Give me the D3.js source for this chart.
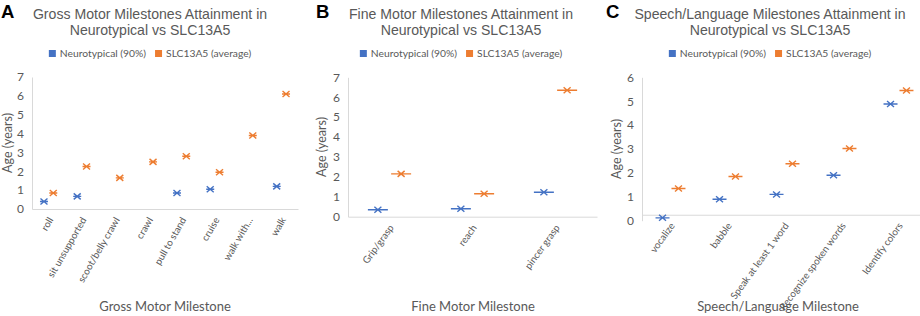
<!DOCTYPE html>
<html>
<head>
<meta charset="utf-8">
<script src="https://cdn.jsdelivr.net/npm/d3@7"></script>
<style>
  body { margin: 0; background: #fff; }
  svg { display: block; }
</style>
</head>
<body>
<script>
(function (d3) {
  'use strict';

  // ---- data ----
  const seriesNames = ["Neurotypical (90%)", "SLC13A5 (average)"];

  const grossCategories = ["roll", "sit unsupported", "scoot/belly crawl", "crawl", "pull to stand", "cruise", "walk with...", "walk"];
  const grossNeuro = [0.4, 0.67, null, null, 0.85, 1.05, null, 1.2];
  const grossSlc = [0.85, 2.25, 1.65, 2.5, 2.8, 1.95, 3.9, 6.1];

  const fineCategories = ["Grip/grasp", "reach", "pincer grasp"];
  const fineNeuro = [0.35, 0.4, 1.23];
  const fineSlc = [2.15, 1.15, 6.35];

  const speechCategories = ["vocalize", "babble", "Speak at least 1 word", "Recognize spoken words", "Identify colors"];
  const speechNeuro = [0.12, 0.9, 1.1, 1.9, 4.88];
  const speechSlc = [1.35, 1.85, 2.38, 3.02, 5.45];

  const yTicks7 = [0, 1, 2, 3, 4, 5, 6, 7];
  const yTicks6 = [0, 1, 2, 3, 4, 5, 6];

  const colors = ["#4472C4", "#ED7D31"];
  const grey = "#595959";
  const lab = "Lato, 'Open Sans', sans-serif";

  const svg = d3.select("body").append("svg")
    .attr("width", 920)
    .attr("height", 316);

  const panels = [
    {letter: "A", lx: 1, cx: 150, title: "Gross Motor Milestones Attainment in",
     cats: grossCategories, vals: [grossNeuro, grossSlc], ticks: yTicks7, max: 7, angle: -60,
     x0: 32, x1: 298, yBase: 209, yTop: 77, cross: 0, dash: 4,
     xTitle: "Gross Motor Milestone", xTitleX: 165, yTitleX: 8},
    {letter: "B", lx: 316, cx: 461, title: "Fine Motor Milestones Attainment in",
     cats: fineCategories, vals: [fineNeuro, fineSlc], ticks: yTicks7, max: 7, angle: -54,
     x0: 348, x1: 597, yBase: 216.7, yTop: 77.3, cross: 0, dash: 10,
     xTitle: "Fine Motor Milestone", xTitleX: 473, yTitleX: 322},
    {letter: "C", lx: 606, cx: 770, title: "Speech/Language Milestones Attainment in",
     cats: speechCategories, vals: [speechNeuro, speechSlc], ticks: yTicks6, max: 6, angle: -54,
     x0: 642, x1: 927, yBase: 220.7, yTop: 77.3, cross: 0.25, dash: 7,
     xTitle: "Speech/Language Milestone", xTitleX: 778, yTitleX: 617}
  ];

  panels.forEach(function (p) {
    const g = svg.append("g");

    const x = d3.scaleBand().domain(p.cats).range([p.x0, p.x1]).padding(0);
    const sub = d3.scalePoint().domain(seriesNames)
      .range([x.bandwidth() * 0.36, x.bandwidth() * 0.64]);
    const y = d3.scaleLinear().domain([0, p.max]).range([p.yBase, p.yTop]);

    // panel letter + title
    g.append("text").attr("x", p.lx).attr("y", 17.5)
      .attr("font-family", "'Liberation Sans', Arial, sans-serif")
      .attr("font-weight", "bold").attr("font-size", 18.5).attr("fill", "#000")
      .text(p.letter);
    const t = g.append("text").attr("text-anchor", "middle")
      .attr("font-family", "'Liberation Sans', Arial, sans-serif")
      .attr("font-size", 14.1).attr("fill", grey);
    t.append("tspan").attr("x", p.cx).attr("y", 18.5).text(p.title);
    t.append("tspan").attr("x", p.cx).attr("y", 34.5).text("Neurotypical vs SLC13A5");

    // legend
    const leg = g.append("g");
    let lxPos = 0;
    seriesNames.forEach(function (name, i) {
      leg.append("rect").attr("x", lxPos).attr("y", 50).attr("width", 7).attr("height", 7)
        .attr("fill", colors[i]);
      const tx = leg.append("text").attr("x", lxPos + 11).attr("y", 57)
        .attr("font-family", lab).attr("font-size", 10.3).attr("fill", grey).text(name);
      lxPos += 11 + tx.node().getComputedTextLength() + 9;
    });
    const lw = lxPos - 9;
    leg.attr("transform", `translate(${p.cx - lw / 2},0)`);

    // y axis
    const ya = g.append("g").attr("transform", `translate(${p.x0},0)`)
      .call(d3.axisLeft(y).tickValues(p.ticks).tickSize(0).tickPadding(8).tickFormat(d3.format("d")));
    ya.select(".domain").attr("stroke", "#d9d9d9");
    ya.selectAll("text").attr("font-family", lab).attr("font-size", 12).attr("fill", grey);

    // x axis (crosses at p.cross)
    const xa = g.append("g").attr("transform", `translate(0,${y(p.cross)})`)
      .call(d3.axisBottom(x).tickSize(0).tickSizeOuter(0));
    xa.select(".domain").attr("stroke", "#d9d9d9");
    xa.selectAll(".tick text")
      .attr("font-family", lab).attr("font-size", 9.8).attr("fill", grey)
      .attr("text-anchor", "end")
      .attr("x", 0).attr("y", 0).attr("dy", "0.35em")
      .attr("transform", `translate(2,9) rotate(${p.angle})`);

    // axis titles
    g.append("text").attr("x", p.xTitleX).attr("y", 311)
      .attr("text-anchor", "middle").attr("font-family", lab).attr("font-size", 13)
      .attr("fill", grey).text(p.xTitle);
    g.append("text").attr("transform", `translate(${p.yTitleX + 4},${(p.yBase + p.yTop) / 2}) rotate(-90)`)
      .attr("text-anchor", "middle").attr("font-family", lab).attr("font-size", 12.5)
      .attr("fill", grey).text("Age (years)");

    // markers: x with horizontal bar
    seriesNames.forEach(function (name, si) {
      const pts = p.cats.map((c, i) => ({c: c, v: p.vals[si][i]})).filter(d => d.v != null);
      g.append("g").selectAll("path").data(pts).join("path")
        .attr("transform", d => `translate(${x(d.c) + sub(name)},${y(d.v)})`)
        .attr("d", `M-3.5,-3L3.5,3M-3.5,3L3.5,-3M${-p.dash},0H${p.dash}`)
        .attr("fill", "none").attr("stroke", colors[si]).attr("stroke-width", 1.4);
    });
  });
}(d3));
</script>
</body>
</html>
